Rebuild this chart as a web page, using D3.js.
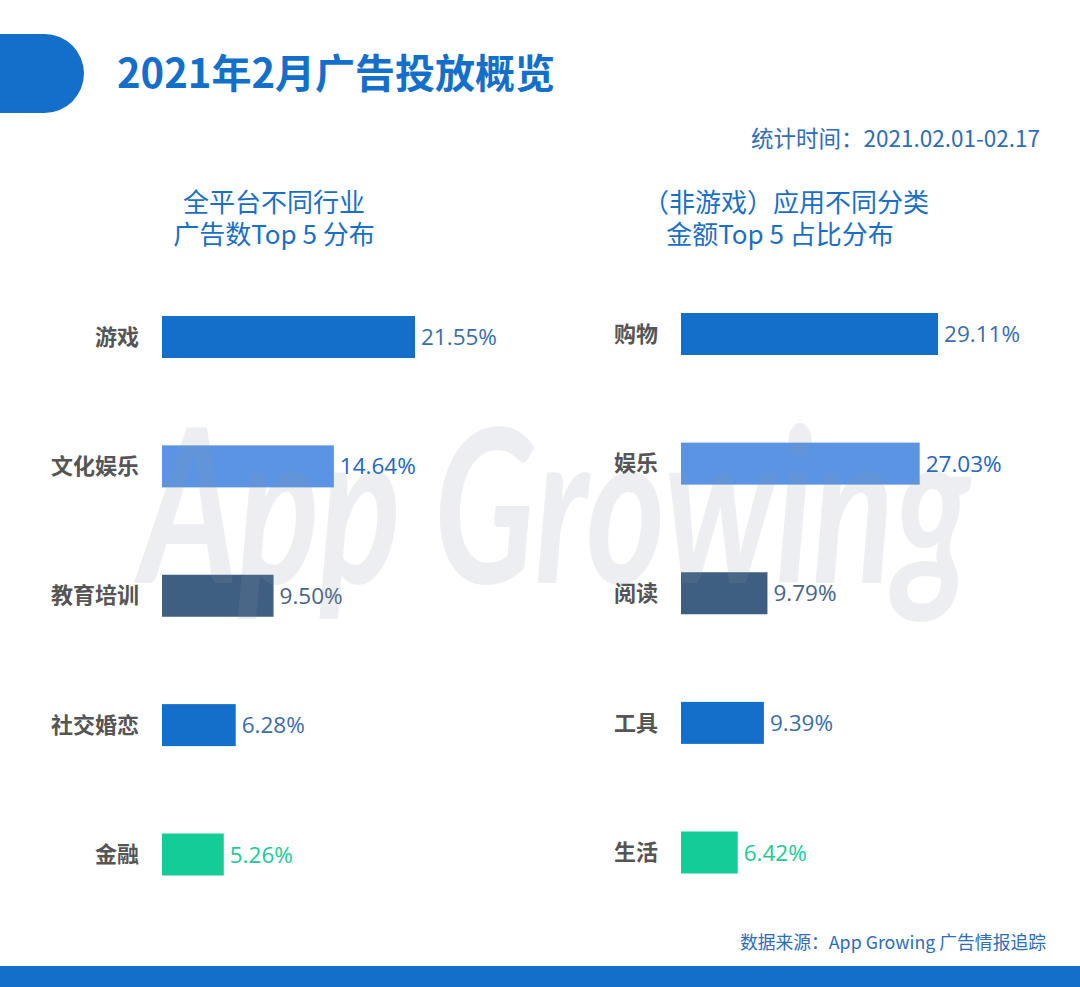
<!DOCTYPE html>
<html>
<head>
<meta charset="utf-8">
<script src="https://cdn.jsdelivr.net/npm/d3@7"></script>
<style>
  body { margin: 0; background: #fff; }
  svg { display: block; }
</style>
</head>
<body>
<svg id="chart" width="1080" height="987"></svg>
<script>
// left chart: industries by ad count
var leftCats = ["游戏", "文化娱乐", "教育培训", "社交婚恋", "金融"]
var leftVals = [21.55, 14.64, 9.50, 6.28, 5.26]

// right chart: non-game app categories by spend
var rightCats = ["购物", "娱乐", "阅读", "工具", "生活"]
var rightVals = [29.11, 27.03, 9.79, 9.39, 6.42]

var barColors = ["#146fcb", "#5b94e3", "#3f5f82", "#146fcb", "#14cc96"]
var labelColors = ["#3a6eaa", "#1f66c6", "#4c6282", "#3a6eaa", "#22c997"]

var blue = "#146fcb"
var textBlue = "#2f6db5"
var cjk = "'Noto Sans CJK SC', 'Noto Sans', sans-serif"

var svg = d3.select("#chart")

// header pill + title
svg.append("rect")
    .attr("x", -50).attr("y", 34)
    .attr("width", 134).attr("height", 79)
    .attr("rx", 39.5)
    .attr("fill", blue)

svg.append("text")
    .attr("x", 117).attr("y", 88)
    .attr("font-family", cjk)
    .attr("font-weight", 700)
    .attr("font-size", 40)
    .attr("fill", blue)
    .text("2021年2月广告投放概览")

svg.append("text")
    .attr("x", 1040).attr("y", 147)
    .attr("text-anchor", "end")
    .attr("font-family", cjk)
    .attr("font-size", 22.5)
    .attr("fill", textBlue)
    .text("统计时间：2021.02.01-02.17")

// footer
svg.append("text")
    .attr("x", 1046).attr("y", 949)
    .attr("text-anchor", "end")
    .attr("font-family", cjk)
    .attr("font-size", 17.8)
    .attr("fill", textBlue)
    .text("数据来源：App Growing 广告情报追踪")

svg.append("rect")
    .attr("x", 0).attr("y", 966)
    .attr("width", 1080).attr("height", 21)
    .attr("fill", blue)

function drawBars(opt) {
    var g = svg.append("g")

    var x = d3.scaleLinear()
        .domain([0, opt.max])
        .range([opt.x0, opt.x1])

    var y = d3.scalePoint()
        .domain(opt.cats)
        .range(opt.yRange)

    // chart title, two lines
    g.selectAll(".ctitle")
        .data(opt.title)
        .join("text")
        .attr("class", "ctitle")
        .attr("x", (d, i) => opt.titleX[i])
        .attr("y", (d, i) => 212 + i * 32)
        .attr("text-anchor", "middle")
        .attr("font-family", cjk)
        .attr("font-size", 26)
        .attr("fill", "#1a6fc4")
        .text(d => d)

    var data = opt.cats.map((c, i) => ({ cat: c, val: opt.vals[i], i: i }))

    g.selectAll(".bar")
        .data(data)
        .join("rect")
        .attr("class", "bar")
        .attr("x", x(0))
        .attr("y", d => y(d.cat) - 21)
        .attr("width", d => x(d.val) - x(0))
        .attr("height", 42)
        .attr("fill", d => barColors[d.i])

    g.selectAll(".cat")
        .data(data)
        .join("text")
        .attr("class", "cat")
        .attr("x", opt.labelX)
        .attr("y", d => y(d.cat))
        .attr("dy", "0.35em")
        .attr("text-anchor", "end")
        .attr("font-family", cjk)
        .attr("font-weight", 700)
        .attr("font-size", 22)
        .attr("fill", "#555")
        .text(d => d.cat)

    g.selectAll(".val")
        .data(data)
        .join("text")
        .attr("class", "val")
        .attr("x", d => x(d.val) + 6)
        .attr("y", d => y(d.cat))
        .attr("dy", "0.36em")
        .attr("font-family", "'Open Sans', 'Noto Sans', sans-serif")
        .attr("font-size", 22.5)
        .attr("fill", d => labelColors[d.i])
        .text(d => d.val.toFixed(2) + "%")
}

drawBars({
    cats: leftCats, vals: leftVals,
    max: 25, x0: 162, x1: 162 + 25 * 11.74,
    yRange: [337, 854.5],
    labelX: 139,
    title: ["全平台不同行业", "广告数Top 5 分布"],
    titleX: [274, 274]
})

drawBars({
    cats: rightCats, vals: rightVals,
    max: 30, x0: 681, x1: 681 + 30 * 8.83,
    yRange: [334, 852.5],
    labelX: 658,
    title: ["（非游戏）应用不同分类", "金额Top 5 占比分布"],
    titleX: [786, 780]
})

// faint watermark over everything
svg.append("text")
    .attr("x", 140).attr("y", 583)
    .attr("textLength", 830)
    .attr("lengthAdjust", "spacingAndGlyphs")
    .attr("font-family", "Lato, 'Open Sans', sans-serif")
    .attr("font-style", "italic")
    .attr("font-weight", 700)
    .attr("font-size", 215)
    .attr("fill", "#8a94a6")
    .attr("opacity", 0.15)
    .attr("pointer-events", "none")
    .text("App Growing")
</script>
</body>
</html>
